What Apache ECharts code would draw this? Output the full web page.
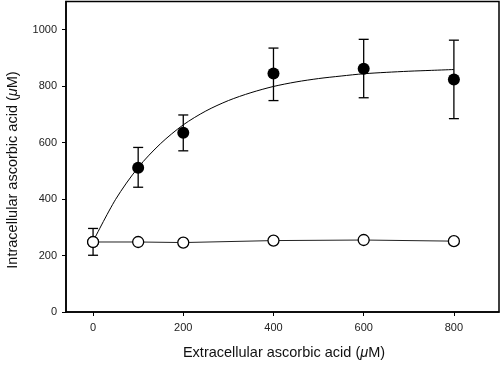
<!DOCTYPE html>
<html><head><meta charset="utf-8">
<script src="https://cdn.jsdelivr.net/npm/echarts@6/dist/echarts.min.js"></script>
<style>html,body{margin:0;padding:0;background:#fff}#c{width:500px;height:370px}</style>
</head><body><div id="c"></div>
<script>
const xValues = [0, 100, 200, 400, 600, 800];
const treatedMean = [248, 511, 635, 845, 862, 824];
const treatedLow = [201, 442, 571, 749, 759, 685];
const treatedHigh = [296, 583, 698, 935, 966, 963];
const controlMean = [248, 248, 246, 253, 255, 251];
const fitX = [0, 50, 100, 150, 200, 250, 300, 350, 400, 450, 500, 550, 600, 650, 700, 750, 800];
const fitY = [250, 399, 512, 597, 663, 712, 749, 777, 799, 815, 827, 836, 844, 849, 853, 856, 859];
const xTicks = [0, 200, 400, 600, 800];
const yTicks = [0, 200, 400, 600, 800, 1000];

const chart = echarts.init(document.getElementById('c'), null, {renderer: 'canvas'});
const font = 'Liberation Sans, Arial, sans-serif';
const errData = xValues.map((x, i) => [x, treatedLow[i], treatedHigh[i]]);
chart.setOption({
  animation: false,
  backgroundColor: '#fff',
  grid: {left: 66, right: 1, top: 1.5, bottom: 58, show: true, borderColor: '#000', borderWidth: 1.5, backgroundColor: 'transparent'},
  xAxis: {
    type: 'value', min: -60, max: 900,
    splitLine: {show: false},
    axisLine: {onZero: false, lineStyle: {color: '#000', width: 1.5}},
    axisTick: {show: true, length: 4, inside: false, customValues: xTicks, lineStyle: {color: '#000'}},
    axisLabel: {customValues: xTicks, formatter: v => String(v), color: '#222', fontSize: 11, fontFamily: font, margin: 10}
  },
  yAxis: {
    type: 'value', min: 0, max: 1100,
    splitLine: {show: false},
    axisLine: {onZero: false, lineStyle: {color: '#000', width: 1.5}},
    axisTick: {show: true, length: 4, inside: false, customValues: yTicks, lineStyle: {color: '#000'}},
    axisLabel: {customValues: yTicks, formatter: v => String(v), color: '#222', fontSize: 11, fontFamily: font, margin: 9}
  },
  graphic: [
    {type: 'text', x: 284, y: 353, style: {text: '{n|Extracellular ascorbic acid (}{i|μ}{n|M)}', align: 'center', verticalAlign: 'middle',
      rich: {n: {fontSize: 14.5, fontFamily: font, fill: '#111'}, i: {fontSize: 14.5, fontFamily: font, fontStyle: 'italic', fill: '#111'}}}},
    {type: 'text', x: 13, y: 170, rotation: Math.PI / 2, style: {text: '{n|Intracellular ascorbic acid (}{i|μ}{n|M)}', align: 'center', verticalAlign: 'middle',
      rich: {n: {fontSize: 14.5, fontFamily: font, fill: '#111'}, i: {fontSize: 14.5, fontFamily: font, fontStyle: 'italic', fill: '#111'}}}}
  ],
  series: [
    {
      type: 'line', data: fitX.map((x, i) => [x, fitY[i]]), smooth: 0.3, showSymbol: false,
      lineStyle: {color: '#000', width: 1}, z: 2
    },
    {
      type: 'custom', data: errData, z: 3,
      renderItem: function (params, api) {
        const x = api.value(0);
        const lo = api.coord([x, api.value(1)]);
        const hi = api.coord([x, api.value(2)]);
        const w = 5;
        const st = {stroke: '#000', lineWidth: 1.3};
        return {type: 'group', children: [
          {type: 'line', shape: {x1: lo[0], y1: lo[1], x2: hi[0], y2: hi[1]}, style: st},
          {type: 'line', shape: {x1: lo[0] - w, y1: lo[1], x2: lo[0] + w, y2: lo[1]}, style: st},
          {type: 'line', shape: {x1: hi[0] - w, y1: hi[1], x2: hi[0] + w, y2: hi[1]}, style: st}
        ]};
      }
    },
    {
      type: 'scatter', data: xValues.map((x, i) => [x, treatedMean[i]]), symbol: 'circle', symbolSize: 12,
      itemStyle: {color: '#000', opacity: 1}, z: 4
    },
    {
      type: 'line', data: xValues.map((x, i) => [x, controlMean[i]]), symbol: 'circle', symbolSize: 11, showAllSymbol: true,
      lineStyle: {color: '#222', width: 1}, itemStyle: {color: '#fff', borderColor: '#000', borderWidth: 1.3, opacity: 1}, z: 5
    }
  ]
});
</script></body></html>
